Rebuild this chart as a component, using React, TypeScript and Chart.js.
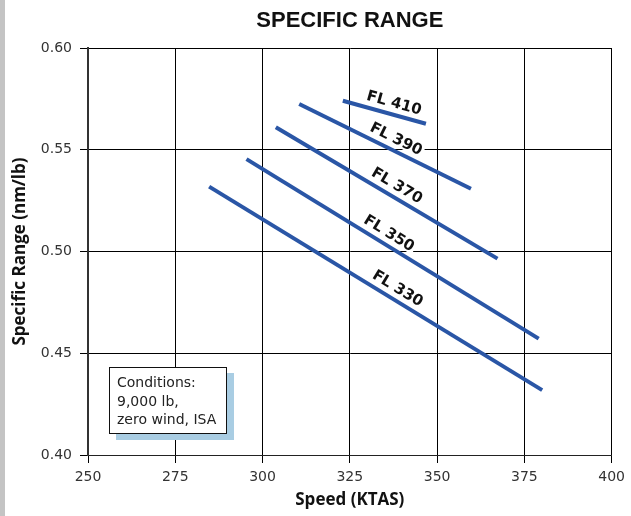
import React, { useEffect, useRef } from 'react';
import { Chart, registerables } from 'chart.js';

Chart.register(...registerables);

// ---- data ----
const flightLevels = ['FL 330', 'FL 350', 'FL 370', 'FL 390', 'FL 410'];
const startSpeed = [284.7, 295.4, 303.8, 310.5, 323.0];
const startRange = [0.5319, 0.5454, 0.5611, 0.5725, 0.5741];
const endSpeed = [380.1, 379.1, 367.3, 359.7, 346.8];
const endRange = [0.4319, 0.4572, 0.4965, 0.5308, 0.5628];
const labelSpeed = [337.0, 334.5, 336.8, 336.8, 336.8];

const speedTicks = [250, 275, 300, 325, 350, 375, 400];
const rangeTicks = [0.4, 0.45, 0.5, 0.55, 0.6];

const conditionsLines = ['Conditions:', '9,000 lb,', 'zero wind, ISA'];

const LINE_COLOR = '#2a56a6';

export default function App() {
  const ref = useRef<HTMLCanvasElement>(null);

  useEffect(() => {
    const labelPlugin = {
      id: 'flLabels',
      beforeDatasetsDraw(chart: any) {
        const ctx = chart.ctx;
        const xs = chart.scales.x;
        ctx.save();
        ctx.font = "bold 15px 'DejaVu Sans'";
        chart.data.datasets.forEach((ds: any, i: number) => {
          const meta = chart.getDatasetMeta(i);
          const p0 = meta.data[0];
          const p1 = meta.data[1];
          const dx = p1.x - p0.x;
          const dy = p1.y - p0.y;
          const ang = Math.atan2(dy, dx);
          const px = xs.getPixelForValue(labelSpeed[i]);
          const t = (px - p0.x) / dx;
          const py = p0.y + t * dy;
          const off = 11;
          const cx = px + Math.sin(ang) * off;
          const cy = py - Math.cos(ang) * off;
          const text = ds.label;
          const w = ctx.measureText(text).width;
          ctx.save();
          ctx.translate(cx, cy);
          ctx.rotate(ang);
          ctx.fillStyle = '#ffffff';
          ctx.fillRect(-w / 2 - 2, -7, w + 4, 13);
          ctx.fillStyle = '#111111';
          ctx.textAlign = 'center';
          ctx.textBaseline = 'middle';
          ctx.fillText(text, 0, 0);
          ctx.restore();
        });
        ctx.restore();
      },
    };

    const chart = new Chart(ref.current as HTMLCanvasElement, {
      type: 'scatter',
      data: {
        datasets: flightLevels.map((fl, i) => ({
          label: fl,
          data: [
            { x: startSpeed[i], y: startRange[i] },
            { x: endSpeed[i], y: endRange[i] },
          ],
          showLine: true,
          borderColor: LINE_COLOR,
          backgroundColor: LINE_COLOR,
          borderWidth: 4,
          borderCapStyle: 'butt',
          pointRadius: 0,
          fill: false,
        })),
      },
      options: {
        animation: false,
        responsive: false,
        layout: { padding: { top: 0, right: 19, bottom: 0, left: 0 } },
        plugins: {
          legend: { display: false },
          tooltip: { enabled: false },
          title: {
            display: true,
            text: 'SPECIFIC RANGE',
            fullSize: false,
            color: '#111',
            font: { family: "'Liberation Sans', Arial, sans-serif", size: 22, weight: 'bold' },
            padding: { top: 8, bottom: 13.6 },
          },
        },
        scales: {
          x: {
            type: 'linear',
            min: speedTicks[0],
            max: speedTicks[speedTicks.length - 1],
            afterBuildTicks(scale: any) {
              scale.ticks = speedTicks.map((v) => ({ value: v }));
            },
            afterFit(scale: any) {
              scale.height = 61;
            },
            ticks: {
              color: '#333',
              padding: 6,
              font: { family: "'DejaVu Sans'", size: 14 },
              callback: (v: any) => String(v),
            },
            grid: { color: '#000', lineWidth: 1, tickLength: 8, drawTicks: true, tickColor: '#000' },
            border: { color: '#222', width: 1 },
            title: {
              display: true,
              text: 'Speed (KTAS)',
              color: '#111',
              font: { family: "'Open Sans'", size: 17, weight: 'bold' },
              padding: { top: 0, bottom: 6 },
            },
          },
          y: {
            type: 'linear',
            min: rangeTicks[0],
            max: rangeTicks[rangeTicks.length - 1],
            afterBuildTicks(scale: any) {
              scale.ticks = rangeTicks.map((v) => ({ value: v }));
            },
            afterFit(scale: any) {
              scale.width = 88;
            },
            ticks: {
              color: '#333',
              padding: 8,
              font: { family: "'DejaVu Sans'", size: 14 },
              callback: (v: any) => Number(v).toFixed(2),
            },
            grid: { color: '#000', lineWidth: 1, tickLength: 8, drawTicks: true, tickColor: '#000' },
            border: { color: '#333', width: 2 },
            title: {
              display: true,
              text: 'Specific Range (nm/lb)',
              color: '#111',
              font: { family: "'Open Sans'", size: 17, weight: 'bold' },
              padding: { top: 10, bottom: 0 },
            },
          },
        },
      },
      plugins: [labelPlugin],
    } as any);

    return () => chart.destroy();
  }, []);

  return (
    <div style={{ position: 'fixed', left: 0, top: 0, width: 631, height: 516, background: '#fff' }}>
      <canvas ref={ref} width={631} height={516} style={{ position: 'absolute', left: 0, top: 0, width: 631, height: 516 }} />
      <div style={{ position: 'absolute', left: 0, top: 0, width: 5, height: 516, background: '#c4c4c4' }} />
      <div
        style={{
          position: 'absolute',
          left: 109,
          top: 367,
          width: 118,
          height: 67,
          boxSizing: 'border-box',
          border: '1px solid #111',
          background: '#fff',
          boxShadow: '7px 6px 0 #a9cde3',
          padding: '5px 0 0 7px',
          fontFamily: "'DejaVu Sans', sans-serif",
          fontSize: 14,
          lineHeight: '18.5px',
          color: '#222',
        }}
      >
        {conditionsLines.map((l) => (
          <div key={l} style={{ whiteSpace: 'nowrap' }}>{l}</div>
        ))}
      </div>
    </div>
  );
}
